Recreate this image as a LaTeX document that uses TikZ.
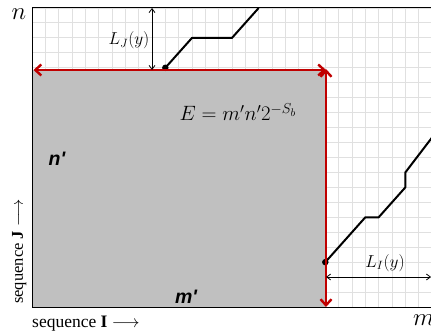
\documentclass[tikz,border=0pt]{standalone}
\usepackage{fontspec}
\setmainfont{Liberation Serif}
\newfontfamily\arialfont{Liberation Sans}
\usetikzlibrary{arrows.meta}
\definecolor{gridgray}{RGB}{224,224,224}
\definecolor{fillgray}{RGB}{192,192,192}
\definecolor{darkred}{RGB}{192,0,0}
\tikzset{
  gridline/.style={gridgray, line width=0.9pt},
  frameline/.style={black, line width=1pt},
  redarrow/.style={darkred, line width=2.4pt, {Straight Barb[length=6pt,width=11pt]}-{Straight Barb[length=6pt,width=11pt]}},
  measure/.style={black, line width=0.8pt, {Straight Barb[length=4pt,width=6pt]}-{Straight Barb[length=4pt,width=6pt]}},
  pathline/.style={black, line width=2pt, line join=round},
  dotmark/.style={circle, fill=black, inner sep=0pt, minimum size=6.5pt},
  primelabel/.style={font=\arialfont\bfseries\itshape\fontsize{19.5}{19.5}\selectfont, inner sep=0pt, anchor=base},
  mathlabel/.style={inner sep=0pt, anchor=base},
}
\begin{document}
\begin{tikzpicture}[x=1pt,y=-1pt]
\useasboundingbox (0,0) rectangle (431,334);
% grid
\foreach \i in {0,...,30} \draw[gridline] ({32+13.333*\i},8) -- ({32+13.333*\i},307);
\foreach \j in {0,...,20} \draw[gridline] (32,{8+14.95*\j}) -- (431,{8+14.95*\j});
% shaded region
\fill[fillgray] (32,70) rectangle (326,307);
% frame
\draw[frameline] (431,8) -- (32,8) -- (32,307) -- (431,307);
% coordinates
\coordinate (TL) at (33.5,70);
\coordinate (TR) at (326,70);
\coordinate (BR) at (326,307);
\coordinate (TRv) at (326,69);
\coordinate (LJtop) at (152,8);
\coordinate (LJbot) at (152,70);
\coordinate (LIleft) at (326,277);
\coordinate (LIright) at (431,277);
% paths
\node[dotmark] (d1) at ({32+13.333*10},{8+14.95*4}) {};
\node[dotmark] (d2) at ({32+13.333*22},{8+14.95*17}) {};
\coordinate (p1a) at ({32+13.333*12},{8+14.95*2});
\coordinate (p1b) at ({32+13.333*15},{8+14.95*2});
\coordinate (p1c) at ({32+13.333*17},{8+14.95*0});
\coordinate (p2a) at ({32+13.333*25},{8+14.95*14});
\coordinate (p2b) at ({32+13.333*26},{8+14.95*14});
\coordinate (p2c) at ({32+13.333*28},{8+14.95*12});
\coordinate (p2d) at ({32+13.333*28},{8+14.95*11});
\coordinate (p2e) at ({32+13.333*31},{8+14.95*7.5});
\draw[pathline] (d1.center) -- (p1a) -- (p1b) -- (p1c);
\draw[pathline] (d2.center) -- (p2a) -- (p2b) -- (p2c) -- (p2d) -- (p2e);
% red arrows
\draw[redarrow] (TL) -- (TR);
\draw[redarrow] (TRv) -- (BR);
% measures
\draw[measure] (LJtop) -- (LJbot);
\draw[measure] (LIleft) -- (LIright);
% labels
\node[mathlabel, font=\fontsize{17}{17}\selectfont] (lj) at (129,45) {$L_J(y)$};
\node[mathlabel, font=\fontsize{17}{17}\selectfont] (li) at (385,267) {$L_I(y)$};
\node[mathlabel, font=\fontsize{22}{22}\selectfont] (eq) at (238,121) {$E=m'n'2^{-S_b}$};
\node[primelabel] (np) at (57,165) {n'};
\node[primelabel] (mp) at (186,303) {m'};
\node[mathlabel, font=\fontsize{24}{24}\selectfont] (n) at (19,20) {$n$};
\node[mathlabel, font=\fontsize{24}{24}\selectfont, anchor=base west] (m) at (413,325) {$m$};
\node[inner sep=0pt, anchor=base west, font=\fontsize{17.5}{17.5}\selectfont] (seqI) at (32,327) {sequence \textbf{I} $\longrightarrow$};
\node[inner sep=0pt, anchor=base west, rotate=90, font=\fontsize{16.5}{16.5}\selectfont] (seqJ) at (23,304) {sequence \textbf{J} $\longrightarrow$};
\end{tikzpicture}
\end{document}
